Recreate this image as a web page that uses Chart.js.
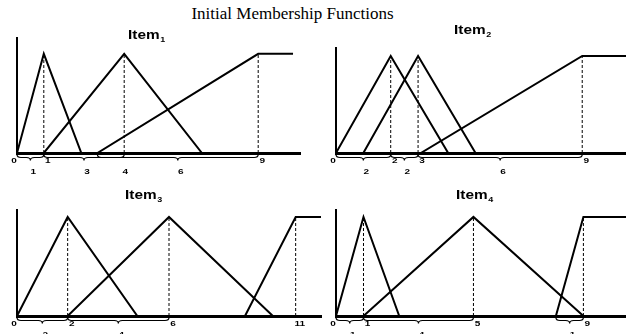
<!DOCTYPE html>
<html>
<head>
<meta charset="utf-8">
<script src="https://cdn.jsdelivr.net/npm/chart.js@4.4.1/dist/chart.umd.min.js"></script>
<style>
  html, body { margin: 0; padding: 0; background: #fff; }
  #wrap { position: relative; width: 626px; height: 334px; overflow: hidden; }
  #wrap canvas { position: absolute; left: 0; top: 0; }
  #heading {
    position: absolute; left: 0; width: 585px; top: 4px;
    text-align: center; color: #000;
    font: 17px "Liberation Serif", "Times New Roman", serif;
  }
</style>
</head>
<body>
<div id="wrap">
  <div id="heading">Initial Membership Functions</div>
  <canvas id="item1" width="626" height="334"></canvas>
  <canvas id="item2" width="626" height="334"></canvas>
  <canvas id="item3" width="626" height="334"></canvas>
  <canvas id="item4" width="626" height="334"></canvas>
</div>
<script>
// Membership functions per item: left foot, peak and right foot of each set.
// The last set of every item is a right shoulder: it rises to 1 at its peak
// and stays flat until the last entry of the "Right" array.

// Item 1
const item1Left  = [0, 1, 3];
const item1Peak  = [1, 4, 9];
const item1Right = [2.4, 6.9, 10.3];
const item1Ticks = [0, 1, 9];          // values written just under the axis
const item1LowTicks = [4];             // values written on the second row
const item1SpanFrom = [0, 1, 3];
const item1SpanTo   = [1, 4, 9];
const item1SpanText = ['1', '3', '6'];

// Item 2
const item2Left  = [0, 1, 3.1];
const item2Peak  = [2, 3, 9];
const item2Right = [4.1, 5.1, 10.6];
const item2Ticks = [0, 2, 3, 9];
const item2LowTicks = [];
const item2SpanFrom = [0, 2, 3];
const item2SpanTo   = [2, 3, 9];
const item2SpanText = ['2', '2', '6'];

// Item 3
const item3Left  = [0, 2, 9];
const item3Peak  = [2, 6, 11];
const item3Right = [4.75, 10.1, 12];
const item3Ticks = [0, 2, 6, 11];
const item3LowTicks = [];
const item3SpanFrom = [0, 2];
const item3SpanTo   = [2, 6];
const item3SpanText = ['2', '4'];

// Item 4
const item4Left  = [0, 1, 8];
const item4Peak  = [1, 5, 9];
const item4Right = [2.3, 9, 10.55];
const item4Ticks = [0, 1, 5, 9];
const item4LowTicks = [];
const item4SpanFrom = [0, 1, 8];
const item4SpanTo   = [1, 5, 9];
const item4SpanText = ['1', '4', '1'];

const LABEL_FONT = 'bold 8px "Liberation Sans", Arial, sans-serif';
const STRETCH = 1.25;

function stretchedText(ctx, text, x, y, font, align) {
  ctx.save();
  ctx.font = font;
  ctx.fillStyle = '#000';
  ctx.translate(x, y);
  ctx.scale(STRETCH, 1);
  ctx.textAlign = align || 'center';
  ctx.textBaseline = 'middle';
  ctx.fillText(text, 0, 0);
  ctx.restore();
}

function drawBrace(ctx, x1, x2, y) {
  const mid = (x1 + x2) / 2, h = 3, r = Math.min(4, (x2 - x1) / 4);
  ctx.beginPath();
  ctx.moveTo(x1, y);
  ctx.quadraticCurveTo(x1, y + h, x1 + r, y + h);
  ctx.lineTo(mid - r, y + h);
  ctx.quadraticCurveTo(mid, y + h, mid, y + 2 * h);
  ctx.quadraticCurveTo(mid, y + h, mid + r, y + h);
  ctx.lineTo(x2 - r, y + h);
  ctx.quadraticCurveTo(x2, y + h, x2, y);
  ctx.stroke();
}

// Item name, braces and value labels under the x axis
const itemDecor = {
  id: 'itemDecor',
  afterDraw(chart, args, o) {
    const ctx = chart.ctx;
    const xs = chart.scales.x;
    const area = chart.chartArea;
    const base = area.bottom;

    // title "Item" with subscript number
    ctx.save();
    ctx.fillStyle = '#000';
    ctx.translate(o.titleX, o.titleY);
    ctx.scale(1.28, 1);
    ctx.font = 'bold 12px "Liberation Sans", Arial, sans-serif';
    ctx.textBaseline = 'alphabetic';
    ctx.textAlign = 'left';
    const w = ctx.measureText('Item').width;
    const sw = 5;
    ctx.fillText('Item', -(w + sw) / 2, 4);
    ctx.font = 'bold 7px "Liberation Sans", Arial, sans-serif';
    ctx.fillText(o.index, -(w + sw) / 2 + w + 0.5, 7);
    ctx.restore();

    // braces for the spreads
    ctx.save();
    ctx.strokeStyle = '#000';
    ctx.lineWidth = 1.2;
    o.spanFrom.forEach((a, i) => {
      drawBrace(ctx, xs.getPixelForValue(a), xs.getPixelForValue(o.spanTo[i]), base + 1.5);
    });
    ctx.restore();

    // first row: values at the axis
    o.ticks.forEach(v => {
      const px = xs.getPixelForValue(v);
      stretchedText(ctx, String(v), v === 0 ? px - 3 : px + 4, base + 8, LABEL_FONT);
    });
    // second row: further values and the spread widths
    o.lowTicks.forEach(v => {
      stretchedText(ctx, String(v), xs.getPixelForValue(v) + 1, base + 19, LABEL_FONT);
    });
    o.spanFrom.forEach((a, i) => {
      const mid = (xs.getPixelForValue(a) + xs.getPixelForValue(o.spanTo[i])) / 2;
      stretchedText(ctx, o.spanText[i], mid + 3, base + 19, LABEL_FONT);
    });
  }
};

function buildSets(left, peak, right) {
  const sets = [];
  peak.forEach((p, i) => {
    const last = i === peak.length - 1;
    const pts = [{ x: left[i], y: 0 }, { x: p, y: 1 }, { x: right[i], y: last ? 1 : 0 }];
    sets.push({ data: pts, borderColor: '#000', borderWidth: 2, pointRadius: 0,
                showLine: true, tension: 0, borderJoinStyle: 'miter' });
    sets.push({ data: [{ x: p, y: 0 }, { x: p, y: 1 }], borderColor: '#000', borderWidth: 1,
                borderDash: [3, 2], pointRadius: 0, showLine: true });
  });
  return sets;
}

function makeItem(id, index, left, peak, right, ticks, lowTicks, spanFrom, spanTo, spanText, box, xMax, yMax, titleX, titleY) {
  new Chart(document.getElementById(id), {
    type: 'scatter',
    data: { datasets: buildSets(left, peak, right) },
    plugins: [itemDecor],
    options: {
      responsive: false,
      animation: false,
      devicePixelRatio: 1,
      events: [],
      layout: { padding: { left: box[0], top: box[1], right: 626 - box[2], bottom: 334 - box[3] } },
      scales: {
        x: {
          type: 'linear', min: 0, max: xMax,
          grid: { display: false, drawTicks: false },
          ticks: { display: false },
          border: { display: true, color: '#000', width: 3 }
        },
        y: {
          type: 'linear', min: 0, max: yMax,
          grid: { display: false, drawTicks: false },
          ticks: { display: false },
          border: { display: true, color: '#000', width: 2 }
        }
      },
      plugins: {
        legend: { display: false },
        tooltip: { enabled: false },
        itemDecor: { index, ticks, lowTicks, spanFrom, spanTo, spanText, titleX, titleY }
      }
    }
  });
}

makeItem('item1', '1', item1Left, item1Peak, item1Right, item1Ticks, item1LowTicks,
         item1SpanFrom, item1SpanTo, item1SpanText, [17, 38, 300, 153], 10.56, 1.16, 147, 35);
makeItem('item2', '2', item2Left, item2Peak, item2Right, item2Ticks, item2LowTicks,
         item2SpanFrom, item2SpanTo, item2SpanText, [336, 48, 626, 153], 10.6, 1.082, 473, 30);
makeItem('item3', '3', item3Left, item3Peak, item3Right, item3Ticks, item3LowTicks,
         item3SpanFrom, item3SpanTo, item3SpanText, [17, 210, 321, 316], 12, 1.07, 144, 195);
makeItem('item4', '4', item4Left, item4Peak, item4Right, item4Ticks, item4LowTicks,
         item4SpanFrom, item4SpanTo, item4SpanText, [336, 210, 626, 316], 10.55, 1.07, 475, 195);
</script>
</body>
</html>
